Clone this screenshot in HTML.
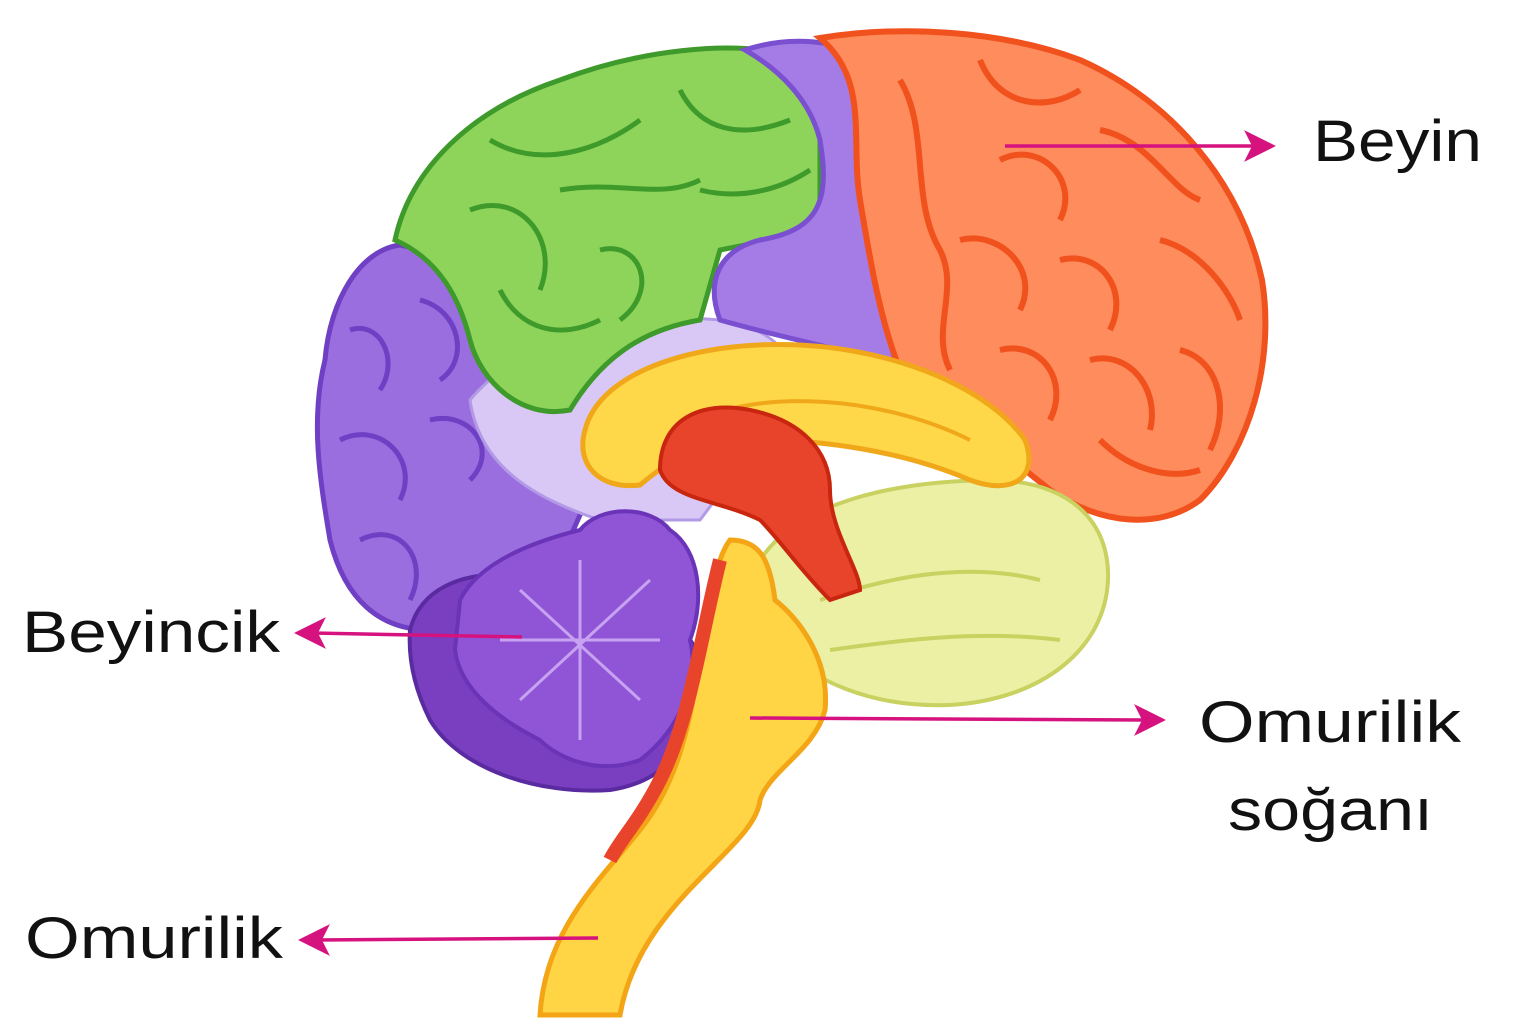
<!DOCTYPE html>
<html><head><meta charset="utf-8">
<style>
html,body{margin:0;padding:0;background:#fff;}
svg{display:block}
text{font-family:"Liberation Sans",sans-serif;fill:#111;}
</style></head><body>
<svg width="1536" height="1024" viewBox="0 0 1536 1024" xmlns="http://www.w3.org/2000/svg">
<rect width="1536" height="1024" fill="#fff"/>
<!-- occipital purple -->
<path d="M400,245 C360,250 330,300 325,360 C310,420 320,480 330,540 C345,600 380,630 430,630 L560,560 L600,470 L560,380 L470,260 Z" fill="#9b6ee0" stroke="#6f3fc4" stroke-width="5"/>
<path d="M350,330 C380,320 400,360 380,390 M340,440 C380,420 420,460 400,500 M360,540 C400,520 430,560 410,600 M420,300 C460,310 470,360 440,380 M430,420 C470,410 500,450 470,480" fill="none" stroke="#6f3fc4" stroke-width="5"/>
<!-- light purple inner -->
<path d="M470,400 C520,340 620,310 720,320 C780,330 800,360 790,400 L700,520 L600,520 C540,500 480,470 470,400 Z" fill="#d9c8f5" stroke="#b39ae6" stroke-width="3"/>
<!-- green parietal -->
<path d="M395,240 C410,170 470,110 560,80 C640,50 730,40 790,55 L820,110 L820,230 L720,250 L700,320 C640,330 600,360 570,410 C520,420 480,380 470,340 C460,300 440,260 395,240 Z" fill="#8fd45a" stroke="#3e9a2a" stroke-width="5"/>
<path d="M490,140 C540,170 600,150 640,120 M470,210 C520,190 560,240 540,290 M560,190 C620,180 660,200 700,180 M600,250 C640,240 660,290 620,320 M680,90 C700,130 740,140 790,120 M700,190 C740,200 780,190 810,170 M500,290 C520,330 560,340 600,320" fill="none" stroke="#3e9a2a" stroke-width="5"/>
<!-- purple strip -->
<path d="M745,50 C790,35 840,40 870,60 C880,120 860,180 880,250 C900,300 905,340 890,365 C850,350 790,340 720,320 C705,280 720,250 760,240 C820,230 830,200 820,140 C810,100 780,70 745,50 Z" fill="#a57be6" stroke="#7a4fd0" stroke-width="5"/>
<!-- orange frontal -->
<path d="M820,38 C900,25 1000,30 1080,60 C1170,100 1240,180 1262,280 C1275,360 1250,450 1200,500 C1160,530 1100,525 1050,490 C1000,450 950,410 900,370 C880,320 870,260 860,200 C850,140 870,80 820,38 Z" fill="#ff8c5c" stroke="#f0511d" stroke-width="6"/>
<path d="M900,80 C930,130 910,200 940,250 C960,290 930,330 950,370 M980,60 C1000,110 1050,110 1080,90 M1000,160 C1040,140 1080,180 1060,220 M1100,130 C1150,140 1170,190 1200,200 M960,240 C1000,230 1040,270 1020,310 M1060,260 C1100,250 1130,290 1110,330 M1160,240 C1200,250 1230,290 1240,320 M1000,350 C1040,340 1070,380 1050,420 M1090,360 C1130,350 1160,390 1150,430 M1180,350 C1220,360 1230,410 1210,450 M1100,440 C1130,470 1170,480 1200,470" fill="none" stroke="#f0511d" stroke-width="6"/>
<!-- temporal yellow-green -->
<path d="M760,560 C800,500 900,480 1000,480 C1080,485 1110,530 1108,580 C1105,650 1040,700 950,705 C870,708 810,680 770,640 Z" fill="#ecf0a5" stroke="#c9d160" stroke-width="4"/>
<path d="M820,600 C880,580 960,560 1040,580 M830,650 C900,640 980,630 1060,640" fill="none" stroke="#c9d160" stroke-width="4"/>
<!-- corpus callosum -->
<path d="M585,430 C600,370 700,340 800,345 C900,350 990,390 1025,440 C1040,480 1010,495 970,480 C900,450 820,440 760,440 C700,440 670,460 640,485 C600,490 575,465 585,430 Z" fill="#ffd84a" stroke="#f0a81a" stroke-width="5"/>
<path d="M700,420 C760,390 880,395 970,440" fill="none" stroke="#f0a81a" stroke-width="4"/>
<!-- red thalamus -->
<path d="M660,470 C660,420 700,400 750,410 C800,420 830,450 830,490 C830,530 860,570 860,590 L830,600 C800,570 780,540 760,520 C720,500 670,500 660,470 Z" fill="#e8442b" stroke="#c9260f" stroke-width="4"/>
<!-- cerebellum -->
<path d="M410,630 C420,590 460,570 520,575 C600,580 680,600 700,660 C710,720 680,780 610,790 C540,795 460,770 430,720 C415,690 408,660 410,630 Z" fill="#7a3fc0" stroke="#5a2aa0" stroke-width="4"/>
<path d="M460,600 C480,560 540,540 580,530 C600,505 650,505 670,530 C700,550 705,600 690,640 C700,680 680,730 640,760 C600,775 560,760 540,740 C500,720 460,690 455,650 Z" fill="#8f55d6" stroke="#6a33b8" stroke-width="4"/>
<path d="M500,640 L660,640 M580,560 L580,740 M520,590 L640,700 M520,700 L650,580" fill="none" stroke="#c7a2f0" stroke-width="3"/>
<!-- brainstem -->
<path d="M730,540 C760,540 770,560 775,600 C800,620 830,660 825,710 C815,750 770,770 760,800 C755,850 640,900 620,1015 L540,1015 C545,930 600,880 640,830 C680,780 690,720 700,660 C710,600 715,560 730,540 Z" fill="#ffd445" stroke="#f3a516" stroke-width="5"/>
<path d="M720,560 C700,640 690,720 660,780 C640,820 620,840 610,860" fill="none" stroke="#e8442b" stroke-width="14"/>
<!-- arrows -->
<g stroke="#d6127e" stroke-width="3.5" fill="#d6127e">
<line x1="1005" y1="146" x2="1258" y2="146"/><path d="M1272,146 L1248,134 L1254,146 L1248,158 Z"/>
<line x1="522" y1="637" x2="312" y2="633"/><path d="M298,633 L322,621 L316,633 L322,645 Z"/>
<line x1="750" y1="718" x2="1148" y2="720"/><path d="M1162,720 L1138,708 L1144,720 L1138,732 Z"/>
<line x1="598" y1="938" x2="316" y2="940"/><path d="M302,940 L326,928 L320,940 L326,952 Z"/>
</g>
<text x="1313" y="161" font-size="58" textLength="169" lengthAdjust="spacingAndGlyphs">Beyin</text>
<text x="22" y="652" font-size="58" textLength="258" lengthAdjust="spacingAndGlyphs">Beyincik</text>
<text x="1199" y="742" font-size="58" textLength="262" lengthAdjust="spacingAndGlyphs">Omurilik</text>
<text x="1228" y="830" font-size="58" textLength="205" lengthAdjust="spacingAndGlyphs">soğanı</text>
<text x="25" y="958" font-size="58" textLength="258" lengthAdjust="spacingAndGlyphs">Omurilik</text>
</svg>
</body></html>
